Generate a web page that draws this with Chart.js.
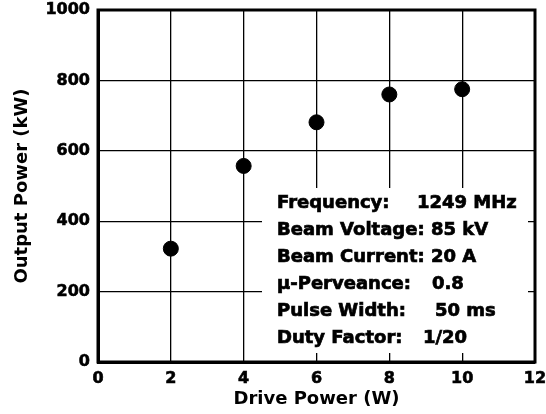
<!DOCTYPE html>
<html>
<head>
<meta charset="utf-8">
<script src="https://cdn.jsdelivr.net/npm/chart.js@4"></script>
<style>
  html, body { margin: 0; padding: 0; background: #fff; }
  #wrap { width: 546px; height: 414px; }
</style>
</head>
<body>
<div id="wrap"><canvas id="c" width="546" height="414"></canvas></div>
<script>
// ---- data ----
const drivePower = [2, 4, 6, 8, 10];          // W
const outputPower = [322, 557, 681, 760, 775]; // kW
const xTicks = [0, 2, 4, 6, 8, 10, 12];
const yTicks = [0, 200, 400, 600, 800, 1000];
const xTitle = 'Drive Power (W)';
const yTitle = 'Output Power (kW)';
const infoLabels = ['Frequency:', 'Beam Voltage:', 'Beam Current:', '\u00B5-Perveance:', 'Pulse Width:', 'Duty Factor:'];
const infoValues = ['1249 MHz', '85 kV', '20 A', '0.8', '50 ms', '1/20'];

const FONT = "'DejaVu Sans', sans-serif";

const infoBox = {
  id: 'infoBox',
  beforeDatasetsDraw(chart) {
    const ctx = chart.ctx;
    ctx.save();
    ctx.fillStyle = '#fff';
    ctx.fillRect(262, 188, 266, 165);
    ctx.fillStyle = '#000';
    ctx.strokeStyle = '#000';
    ctx.lineWidth = 0.7;
    ctx.font = 'bold 18px ' + FONT;
    ctx.textBaseline = 'middle';
    ctx.textAlign = 'left';
    const valX = [417, null, null, 432, 435, 423];
    const put = (t, x, y) => { ctx.fillText(t, x, y); ctx.strokeText(t, x, y); };
    for (let i = 0; i < infoLabels.length; i++) {
      const y = 203 + i * 27;
      if (valX[i] === null) {
        put(infoLabels[i] + ' ' + infoValues[i], 277, y);
      } else {
        put(infoLabels[i], 277, y);
        put(infoValues[i], valX[i], y);
      }
    }
    ctx.restore();
  },
  afterDraw(chart) {
    const ctx = chart.ctx, a = chart.chartArea;
    ctx.save();
    ctx.strokeStyle = '#000';
    ctx.lineWidth = 3;
    ctx.strokeRect(a.left, a.top, a.right - a.left, a.bottom - a.top);
    ctx.restore();
  }
};

const tickFont = { family: FONT, size: 16, weight: 'bold' };
const titleFont = { family: FONT, size: 18, weight: 'bold' };

new Chart(document.getElementById('c'), {
  type: 'scatter',
  data: {
    datasets: [{
      data: drivePower.map((x, i) => ({ x: x, y: outputPower[i] })),
      backgroundColor: '#000',
      borderColor: '#000',
      pointRadius: 7.5,
      pointHoverRadius: 7.5,
      showLine: false
    }]
  },
  options: {
    responsive: false,
    animation: false,
    devicePixelRatio: 1,
    layout: { padding: 0 },
    plugins: { legend: { display: false }, tooltip: { enabled: false } },
    scales: {
      x: {
        type: 'linear',
        min: 0, max: 12,
        afterBuildTicks(s) { s.ticks = xTicks.map(v => ({ value: v })); },
        afterFit(s) { s.height = 52; s.paddingRight = 11; },
        ticks: { color: '#000', font: tickFont, padding: 7, maxRotation: 0,
                 textStrokeColor: '#000', textStrokeWidth: 0.6,
                 callback: v => String(v) },
        grid: { color: '#000', lineWidth: 1.3, drawTicks: false },
        border: { color: '#000', width: 3 },
        title: { display: true, text: xTitle, color: '#000', font: titleFont, padding: { top: 0, bottom: 4 } }
      },
      y: {
        type: 'linear',
        min: 0, max: 1000,
        afterBuildTicks(s) { s.ticks = yTicks.map(v => ({ value: v })); },
        afterFit(s) { s.width = 98; s.paddingTop = 10; },
        ticks: { color: '#000', font: tickFont, padding: 8,
                 textStrokeColor: '#000', textStrokeWidth: 0.6,
                 callback: v => String(v) },
        grid: { color: '#000', lineWidth: 1.3, drawTicks: false },
        border: { color: '#000', width: 3 },
        title: { display: true, text: yTitle, color: '#000', font: titleFont, padding: { top: 12, bottom: 4 } }
      }
    }
  },
  plugins: [infoBox]
});
</script>
</body>
</html>
